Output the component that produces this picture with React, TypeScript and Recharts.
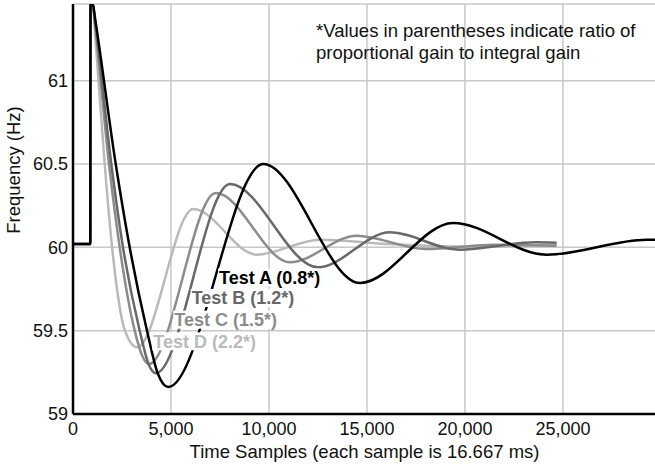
import React from 'react';
import { LineChart, Line, XAxis, YAxis, CartesianGrid, ReferenceDot } from 'recharts';

// Time samples (x) and frequency values (Hz)
const testASamples = [0, 880, 895, 1010, 1122, 2180, 2893, 3776, 4337, 4862, 9710, 14643, 19400, 24167, 29290, 29750];
const testAValues = [60.02, 60.02, 61.46, 61.46, 61.377, 60.5, 60.0, 59.5, 59.24, 59.162, 60.5, 59.786, 60.146, 59.956, 60.046, 60.045];

const testBSamples = [0, 880, 895, 1010, 1122, 1954, 2551, 3403, 3878, 4235, 8010, 12500, 16173, 19700, 23600, 24680];
const testBValues = [60.02, 60.02, 61.46, 61.46, 61.36, 60.5, 60.0, 59.5, 59.293, 59.245, 60.38, 59.88, 60.09, 59.986, 60.03, 60.028];

const testCSamples = [0, 880, 895, 1010, 1122, 1837, 2383, 3148, 3521, 3878, 7290, 11071, 14474, 18000, 21500, 24680];
const testCValues = [60.02, 60.02, 61.46, 61.46, 61.34, 60.5, 60.0, 59.5, 59.353, 59.3, 60.326, 59.91, 60.07, 59.99, 60.015, 60.01];

const testDSamples = [0, 880, 895, 1010, 1122, 1617, 1995, 2650, 3265, 6138, 9372, 12602, 16000, 20000, 24680];
const testDValues = [60.02, 60.02, 61.46, 61.46, 61.29, 60.5, 60.0, 59.5, 59.4, 60.23, 59.956, 60.046, 60.02, 60.005, 60.015];

const seriesNames = ['Test A', 'Test B', 'Test C', 'Test D'];
const labelTexts = ['Test A (0.8*)', 'Test B (1.2*)', 'Test C (1.5*)', 'Test D (2.2*)'];
const labelSamples = [7449, 6056, 5168, 4097];
const labelValues = [59.818, 59.696, 59.566, 59.436];

const xTicks = [0, 5000, 10000, 15000, 20000, 25000];
const yTicks = [59, 59.5, 60, 60.5, 61];
const xMax = 29750;
const yDomain = [59, 61.46];

const noteLines = ['*Values in parentheses indicate ratio of', 'proportional gain to integral gain'];
const xTitle = 'Time Samples (each sample is 16.667 ms)';
const yTitle = 'Frequency (Hz)';

const colors = ['#000000', '#686868', '#8c8c8c', '#bababa'];
const FONT = '"Liberation Sans", Arial, Helvetica, sans-serif';

const zip = (xs: number[], ys: number[]) => xs.map((s, i) => ({ s, v: ys[i] }));
const seriesData = [
  zip(testASamples, testAValues),
  zip(testBSamples, testBValues),
  zip(testCSamples, testCValues),
  zip(testDSamples, testDValues),
];

const fmt = (n: number) => n.toLocaleString('en-US');

export default function App() {
  return (
    <div style={{ position: 'absolute', left: 0, top: 0, width: 655, height: 465, overflow: 'hidden', background: '#fff', fontFamily: FONT }}>
      <LineChart width={660} height={465} margin={{ top: 4, right: 4, bottom: 0, left: 0 }}>
        <CartesianGrid stroke="#c8c8c8" strokeWidth={1.5} />
        <XAxis
          type="number"
          dataKey="s"
          domain={[0, xMax]}
          ticks={xTicks}
          allowDataOverflow
          tickFormatter={fmt}
          tickLine={false}
          tickSize={5}
          tickMargin={3}
          height={51}
          axisLine={{ stroke: '#000', strokeWidth: 2.5 }}
          tick={{ fill: '#111', fontSize: 18, fontFamily: FONT }}
          label={{
            content: (p: any) => {
              const vb = p.viewBox || {};
              return (
                <text x={vb.x + vb.width / 2} y={458} textAnchor="middle" fill="#111" fontSize={18.5} fontFamily={FONT}>
                  {xTitle}
                </text>
              );
            },
          }}
        />
        <XAxis
          xAxisId="top"
          orientation="top"
          type="number"
          dataKey="s"
          domain={[0, xMax]}
          allowDataOverflow
          height={0}
          tick={false}
          tickLine={false}
          axisLine={{ stroke: '#000', strokeWidth: 2 }}
        />
        <YAxis
          type="number"
          domain={yDomain}
          ticks={yTicks}
          allowDataOverflow
          width={73}
          tickLine={false}
          tickSize={5}
          tickMargin={0}
          axisLine={{ stroke: '#000', strokeWidth: 2.5 }}
          tick={{ fill: '#111', fontSize: 18, fontFamily: FONT }}
          label={{
            content: () => (
              <text x={20} y={170} transform="rotate(-90 20 170)" textAnchor="middle" fill="#111" fontSize={18.5} fontFamily={FONT}>
                {yTitle}
              </text>
            ),
          }}
        />
        {seriesData.map((d, i) => (
          <Line
            key={seriesNames[i]}
            name={seriesNames[i]}
            data={d}
            dataKey="v"
            type="monotone"
            stroke={colors[i]}
            strokeWidth={2.5}
            dot={false}
            activeDot={false}
            isAnimationActive={false}
          />
        )).reverse()}
        {labelTexts.map((t, i) => (
          <ReferenceDot
            key={t}
            x={labelSamples[i]}
            y={labelValues[i]}
            r={0}
            shape={(p: any) => (
              <g>
                <rect x={p.cx - 1} y={p.cy - 9} width={106} height={18} fill="#fff" />
                <text x={p.cx} y={p.cy} dy="0.36em" fill={colors[i]} fontSize={18} fontWeight="bold" fontFamily={FONT}>
                  {t}
                </text>
              </g>
            )}
          />
        ))}
      </LineChart>
      <div style={{ position: 'absolute', left: 316, top: 20, fontSize: 18.5, lineHeight: '21.5px', color: '#111', whiteSpace: 'nowrap' }}>
        {noteLines.map((l) => (
          <div key={l}>{l}</div>
        ))}
      </div>
    </div>
  );
}
